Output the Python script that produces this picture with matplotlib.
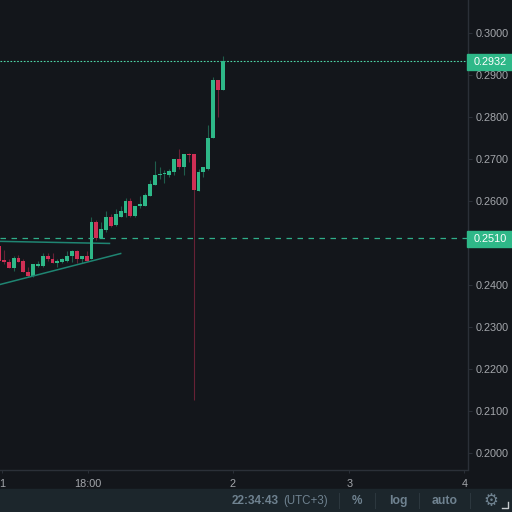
from matplotlib import pyplot as plt
from matplotlib.patches import Rectangle
import numpy as np

# price data, one entry per candle
opens = [.2493, .2457, .2455, .2440, .2464, .2457, .2431, .2421, .2445, .2445, .2469, .2462,
         .2452, .2455, .2457, .2469, .2481, .2462, .2467, .2462, .2550, .2512, .2529, .2560,
         .2543, .2562, .2571, .2598, .2564, .2586, .2588, .2612, .2638, .2660, .2663, .2662,
         .2669, .2698, .2681, .2710, .2710, .2624, .2667, .2676, .2750, .2888, .2864]
closes = [.2457, .2455, .2440, .2464, .2455, .2429, .2421, .2450, .2450, .2469, .2460, .2452,
          .2457, .2460, .2469, .2481, .2462, .2467, .2457, .2548, .2512, .2533, .2560, .2540,
          .2567, .2576, .2598, .2564, .2588, .2593, .2614, .2640, .2662, .2662, .2664, .2671,
          .2698, .2681, .2712, .2709, .2626, .2669, .2679, .2750, .2888, .2864, .2933]
highs = [.2493, .2483, .2460, .2467, .2471, .2462, .2443, .2450, .2457, .2476, .2476, .2476,
         .2462, .2464, .2479, .2483, .2483, .2467, .2481, .2560, .2555, .2550, .2576, .2569,
         .2579, .2588, .2607, .2605, .2588, .2612, .2619, .2648, .2695, .2681, .2674, .2676,
         .2698, .2724, .2712, .2714, .2712, .2676, .2679, .2781, .2895, .2888, .2945]
lows = [.2457, .2448, .2440, .2433, .2455, .2429, .2419, .2419, .2443, .2443, .2457, .2452,
        .2443, .2452, .2455, .2455, .2452, .2452, .2457, .2462, .2507, .2510, .2526, .2538,
        .2540, .2560, .2560, .2562, .2562, .2583, .2586, .2610, .2636, .2652, .2643, .2657,
        .2662, .2676, .2662, .2693, .2126, .2624, .2655, .2674, .2750, .2798, .2864]

y_ticks = [0.2000, 0.2100, 0.2200, 0.2300, 0.2400, 0.2500, 0.2600, 0.2700, 0.2800, 0.2900, 0.3000]
x_ticks = [0.6, 18.2, 48, 72, 95.6]
x_labels = ['1', '18:00', '2', '3', '4']

upper_line_x = [0.12, 22.7]
upper_line_y = [.2503, .2498]
lower_line_x = [0.12, 25]
lower_line_y = [.2400, .2474]
last_price = 0.2932
level_price = 0.2510

BG = '#13161b'
UP = '#2eb888'
DOWN = '#cf2f55'
TEAL = '#1f8572'
GRID = '#2b3038'
TEXT = '#a3a6ab'
BAR = '#1c262c'
BAR_TEXT = '#6f8290'
PX = 512

plt.rcParams['font.family'] = ['Liberation Sans', 'DejaVu Sans']
fig = plt.figure(figsize=(5.12, 5.12), dpi=100, facecolor=BG)
ax = fig.add_axes([0, (PX - 469.5) / PX, 467.5 / PX, 469.5 / PX], facecolor=BG)

idx = np.arange(len(opens))
o = np.array(opens)
c = np.array(closes)
colors = [UP if b >= a else DOWN for a, b in zip(o, c)]
ax.vlines(idx, lows, highs, colors=colors, linewidth=0.8, alpha=0.45, zorder=3)
ax.bar(idx, np.maximum(np.abs(c - o), 0.00025), bottom=np.minimum(o, c), width=0.8,
       color=colors, zorder=4)

ax.plot(upper_line_x, upper_line_y, color=TEAL, lw=1.1, zorder=2)
ax.plot(lower_line_x, lower_line_y, color=TEAL, lw=1.1, zorder=5)
ax.axhline(last_price, color='#4fd8a8', lw=0.8, ls=(0, (1.5, 1.5)), zorder=2)
ax.axhline(level_price, color='#2fae8a', lw=0.9, ls=(0, (4.4, 4.4)), zorder=2)

ax.set_xlim(1.0 / 4.867, 468.5 / 4.867)
ax.set_ylim(0.3 - (469.5 - 32.6) / 4200, 0.3 + 32.6 / 4200)
ax.yaxis.tick_right()
ax.set_yticks(y_ticks, ['%.4f' % t for t in y_ticks])
ax.set_xticks(x_ticks, x_labels)
ax.tick_params(axis='y', colors=TEXT, labelsize=7.8, length=3, width=0.7, color=GRID, pad=3)
ax.tick_params(axis='x', colors=TEXT, labelsize=7.8, length=2, width=0.7, color=GRID, pad=5)
for name in ['top', 'left']:
    ax.spines[name].set_visible(False)
for name in ['right', 'bottom']:
    ax.spines[name].set_color(GRID)
    ax.spines[name].set_linewidth(1.0)


def fx(x):
    return x / PX


def fy(y):
    return 1 - y / PX


# price labels sitting on the axis
for price, text in [(last_price, '0.2932'), (level_price, '0.2510')]:
    y = 33 + (0.3 - price) * 4200
    fig.patches.append(Rectangle((fx(467), fy(y + 8)), 45 / PX, 16 / PX, transform=fig.transFigure,
                                 color=UP, zorder=5))
    fig.text(fx(474), fy(y), text, color='white', fontsize=7.8, va='center', zorder=6)

# status bar
fig.patches.append(Rectangle((0, 0), 1, 23 / PX, transform=fig.transFigure, color=BAR, zorder=1))
for x in [339, 375, 419, 470]:
    fig.add_artist(plt.Line2D([fx(x), fx(x)], [fy(508), fy(493)], color='#2c373e', lw=0.8))
bar_y = fy(501)
fig.text(fx(232), bar_y, '22:34:43', color=BAR_TEXT, fontsize=8.5, fontweight='bold', va='center', zorder=3)
fig.text(fx(283), bar_y, '(UTC+3)', color=BAR_TEXT, fontsize=8.3, va='center', zorder=3)
fig.text(fx(357), bar_y, '%', color=BAR_TEXT, fontsize=8.5, fontweight='bold', va='center', ha='center', zorder=3)
fig.text(fx(398), bar_y, 'log', color=BAR_TEXT, fontsize=8.8, fontweight='bold', va='center', ha='center', zorder=3)
fig.text(fx(445), bar_y, 'auto', color=BAR_TEXT, fontsize=8.8, fontweight='bold', va='center', ha='center', zorder=3)
fig.text(fx(491), bar_y, '\u2699', color=BAR_TEXT, fontsize=12, va='center', ha='center',
         family='DejaVu Sans', zorder=3)
fig.add_artist(plt.Line2D([fx(502), fx(508), fx(508)], [fy(508), fy(508), fy(502)], color='#c8ccd0', lw=1.0))

plt.savefig('out.png', dpi=100, facecolor=BG)
